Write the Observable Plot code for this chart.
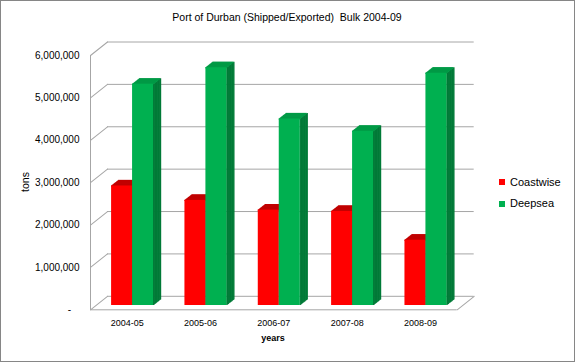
<!DOCTYPE html>
<html><head><meta charset="utf-8">
<script src="https://cdn.jsdelivr.net/npm/d3@7"></script>
<script src="https://cdn.jsdelivr.net/npm/@observablehq/plot@0.6"></script>
<style>
html,body{margin:0;padding:0;background:#fff;overflow:hidden}
#wrap{position:relative;width:575px;height:362px;font-family:'Liberation Sans',Arial,sans-serif;color:#000}
#wrap svg{position:absolute;left:0;top:0}
.t{position:absolute;white-space:pre;transform:translate(-50%,-50%);line-height:1}
.lg{position:absolute;white-space:pre;line-height:1;font-size:11px}
.sw{position:absolute;width:6px;height:6px}
#border{position:absolute;left:0;top:0;width:575px;height:362px;box-sizing:border-box;border:1px solid #868686;pointer-events:none}
</style></head><body>
<div id="wrap"></div>
<script>
const title = "Port of Durban (Shipped/Exported)  Bulk 2004-09";
const xTitle = "years";
const yTitle = "tons";
const years = ["2004-05", "2005-06", "2006-07", "2007-08", "2008-09"];
const seriesNames = ["Coastwise", "Deepsea"];
const coastwise = [2820000, 2480000, 2250000, 2220000, 1540000];
const deepsea = [5220000, 5610000, 4400000, 4110000, 5480000];
const yTicks = [0, 1000000, 2000000, 3000000, 4000000, 5000000, 6000000];

const seriesValues = {Coastwise: coastwise, Deepsea: deepsea};
const colors = {
  Coastwise: {front: "#ff0000", top: "#c00000", side: "#a50000"},
  Deepsea: {front: "#00b050", top: "#009a46", side: "#007a37"}
};
const barFrac = 0.286;           // bar width as fraction of category
const wall = {dx: 17, dy: -13.5}; // depth of the back wall
const barFront = {dx: 5.4, dy: -4.3};
const depth = {dx: 7, dy: -5.5};
const N = 10;
const grid = "#a6a6a6";

const rows = [];
years.forEach((yr, i) => {
  seriesNames.forEach((s, j) => {
    const x1 = i + 0.5 + (j - 1) * barFrac;
    rows.push({year: yr, series: s, value: seriesValues[s][i], x1, x2: x1 + barFrac});
  });
});

const diagShape = {draw(c, l) { c.moveTo(0, 0); c.lineTo(0, -l); }};
const diagLen = Math.hypot(wall.dx, wall.dy);
const diagAngle = Math.atan2(wall.dx, -wall.dy) * 180 / Math.PI;

const marks = [];
marks.push(Plot.ruleY(yTicks, {dx: wall.dx, dy: wall.dy, stroke: grid, strokeWidth: 1}));
marks.push(Plot.vector(yTicks, {x: d => 0, y: d => d, length: diagLen, rotate: diagAngle, anchor: "start", shape: diagShape, stroke: grid, strokeWidth: 1}));
marks.push(Plot.vector([0], {x: d => years.length, y: d => d, length: diagLen, rotate: diagAngle, anchor: "start", shape: diagShape, stroke: grid, strokeWidth: 1}));
marks.push(Plot.ruleX([0], {y1: d => 0, y2: d => yTicks[yTicks.length - 1], stroke: grid, strokeWidth: 1}));
marks.push(Plot.ruleY([0], {stroke: grid, strokeWidth: 1}));

for (const s of seriesNames) {
  const data = rows.filter(r => r.series === s);
  const c = colors[s];
  for (let k = N; k >= 0; k--) {
    marks.push(Plot.ruleX(data, {x: "x2", y1: d => 0, y2: "value", dx: barFront.dx + depth.dx * k / N, dy: barFront.dy + depth.dy * k / N, stroke: c.side, strokeWidth: 1.3}));
  }
  for (let k = N; k >= 0; k--) {
    marks.push(Plot.ruleY(data, {y: "value", x1: "x1", x2: "x2", dx: barFront.dx + depth.dx * k / N, dy: barFront.dy + depth.dy * k / N, stroke: c.top, strokeWidth: 1.3}));
  }
  marks.push(Plot.rect(data, {x1: "x1", x2: "x2", y1: d => 0, y2: "value", dx: barFront.dx, dy: barFront.dy, fill: c.front}));
}

marks.push(Plot.axisY(yTicks, {tickSize: 0, tickPadding: 11, fontSize: 10, label: null,
  tickFormat: d => d === 0 ? "-\u00a0\u00a0\u00a0" : d3.format(",")(d)}));
marks.push(Plot.axisX(years.map((_, i) => i + 0.5), {tickSize: 0, tickPadding: 9.5, fontSize: 9, label: null,
  tickFormat: d => years[Math.round(d - 0.5)]}));

const chart = Plot.plot({
  width: 575, height: 362,
  marginLeft: 90, marginRight: 118.3, marginTop: 55, marginBottom: 52.7,
  x: {type: "linear", domain: [0, years.length]},
  y: {type: "linear", domain: [0, yTicks[yTicks.length - 1]]},
  style: {fontFamily: "'Liberation Sans', Arial, sans-serif", fontSize: "10px", color: "#000", background: "transparent"},
  marks
});

const wrap = document.getElementById("wrap");
wrap.appendChild(chart);
function addText(txt, x, y, size, weight, rot) {
  const d = document.createElement("div");
  d.className = "t"; d.textContent = txt;
  d.style.left = x + "px"; d.style.top = y + "px";
  d.style.fontSize = size + "px"; d.style.fontWeight = weight || "normal";
  if (rot) d.style.transform = "translate(-50%,-50%) rotate(" + rot + "deg)";
  wrap.appendChild(d);
}
addText(title, 287, 17, 10.5, "normal");
addText(xTitle, 273, 338, 9, "bold");
addText(yTitle, 25, 182, 10.5, "normal", -90);
seriesNames.forEach((s, j) => {
  const sw = document.createElement("div");
  sw.className = "sw"; sw.style.background = colors[s].front;
  sw.style.left = "499px"; sw.style.top = (179 + j * 21.5) + "px";
  wrap.appendChild(sw);
  const t = document.createElement("div");
  t.className = "lg"; t.textContent = s;
  t.style.left = "510px"; t.style.top = (176.5 + j * 21.5) + "px";
  wrap.appendChild(t);
});
const b = document.createElement("div"); b.id = "border"; wrap.appendChild(b);
</script>
</body></html>
